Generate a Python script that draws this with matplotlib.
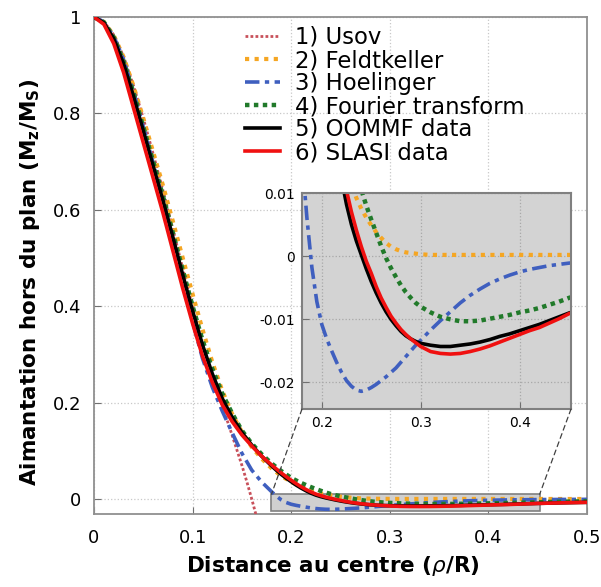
import matplotlib
matplotlib.use("Agg")
import matplotlib.pyplot as plt
from matplotlib.patches import Rectangle, ConnectionPatch

plt.rcParams['font.family'] = ['DejaVu Sans']
plt.rcParams['axes.unicode_minus'] = False
plt.rcParams['mathtext.fontset'] = 'dejavusans'

# distance to the centre (rho/R), shared by the models and the simulations
dist = [0.00, 0.01, 0.02, 0.03, 0.04, 0.05, 0.06, 0.07, 0.08, 0.09,
        0.10, 0.11, 0.12, 0.13, 0.14, 0.15, 0.16, 0.17, 0.18, 0.185,
        0.19, 0.195, 0.200, 0.205, 0.210, 0.215, 0.220, 0.225, 0.230, 0.235,
        0.240, 0.245, 0.250, 0.255, 0.260, 0.265, 0.270, 0.275, 0.280, 0.285,
        0.290, 0.295, 0.300, 0.31, 0.32, 0.33, 0.34, 0.35, 0.36, 0.37,
        0.38, 0.39, 0.40, 0.41, 0.42, 0.43, 0.44, 0.45, 0.475, 0.50]

feldtkeller = [1.000, 0.990, 0.962, 0.917, 0.857, 0.790, 0.720, 0.650, 0.576, 0.500,
               0.425, 0.352, 0.284, 0.225, 0.177, 0.139, 0.108, 0.084, 0.064, 0.0558,
               0.048, 0.0417, 0.036, 0.0305, 0.0255, 0.0210, 0.0172, 0.0140, 0.0113, 0.0092,
               0.0075, 0.0061, 0.0049, 0.0038, 0.0029, 0.0021, 0.0015, 0.0011, 0.0008, 0.0006,
               0.0005, 0.0004, 0.0003, 0.0002, 0.0002, 0.0002, 0.0002, 0.0002, 0.0002, 0.0002,
               0.0002, 0.0002, 0.0002, 0.0002, 0.0002, 0.0002, 0.0002, 0.0002, 0.0001, 0.0001]

hoelinger = [1.000, 0.990, 0.960, 0.912, 0.845, 0.772, 0.697, 0.620, 0.540, 0.456,
             0.368, 0.292, 0.232, 0.183, 0.138, 0.095, 0.060, 0.0355, 0.0155, 0.0060,
             -0.0018, -0.0072, -0.0108, -0.0131, -0.0150, -0.0168, -0.0184, -0.0197, -0.0206, -0.0212,
             -0.0214, -0.0212, -0.0208, -0.0203, -0.0197, -0.0191, -0.0184, -0.0177, -0.0168, -0.0159,
             -0.0150, -0.0141, -0.0133, -0.0117, -0.0102, -0.0088, -0.0074, -0.0062, -0.0052, -0.0043,
             -0.0036, -0.0030, -0.0025, -0.0021, -0.0018, -0.0015, -0.0013, -0.0011, -0.0008, -0.0006]

fourier = [1.000, 0.989, 0.958, 0.908, 0.843, 0.772, 0.700, 0.628, 0.552, 0.475,
           0.400, 0.330, 0.270, 0.219, 0.178, 0.142, 0.115, 0.093, 0.074, 0.0658,
           0.058, 0.0508, 0.044, 0.0385, 0.0335, 0.0290, 0.0248, 0.0208, 0.0171, 0.0137,
           0.0105, 0.0080, 0.0058, 0.0037, 0.0016, -0.0003, -0.0019, -0.0033, -0.0046, -0.0057,
           -0.0066, -0.0074, -0.0080, -0.0089, -0.0096, -0.0100, -0.0103, -0.0103, -0.0102, -0.0099,
           -0.0096, -0.0093, -0.0089, -0.0086, -0.0082, -0.0077, -0.0072, -0.0066, -0.0055, -0.0046]

oommf = [1.000, 0.988, 0.955, 0.903, 0.836, 0.764, 0.691, 0.619, 0.543, 0.465,
         0.390, 0.320, 0.260, 0.209, 0.170, 0.138, 0.112, 0.089, 0.069, 0.0597,
         0.051, 0.0432, 0.036, 0.029, 0.0228, 0.0172, 0.0122, 0.0082, 0.0050, 0.0024,
         0.0002, -0.0020, -0.0040, -0.0058, -0.0074, -0.0088, -0.0100, -0.0110, -0.0119, -0.0126,
         -0.0131, -0.0135, -0.0138, -0.0141, -0.0143, -0.0143, -0.0141, -0.0139, -0.0136, -0.0132,
         -0.0127, -0.0123, -0.0118, -0.0113, -0.0108, -0.0102, -0.0096, -0.0090, -0.0078, -0.0068]

slasi = [1.000, 0.985, 0.945, 0.885, 0.812, 0.739, 0.666, 0.593, 0.515, 0.437,
         0.364, 0.297, 0.242, 0.196, 0.161, 0.133, 0.110, 0.089, 0.071, 0.0623,
         0.054, 0.0463, 0.039, 0.032, 0.0255, 0.0198, 0.0148, 0.0104, 0.0070, 0.0041,
         0.0015, -0.0008, -0.0027, -0.0048, -0.0066, -0.0081, -0.0095, -0.0106, -0.0116, -0.0124,
         -0.0131, -0.0137, -0.0143, -0.0151, -0.0154, -0.0155, -0.0154, -0.0151, -0.0147, -0.0142,
         -0.0136, -0.0130, -0.0124, -0.0118, -0.0113, -0.0106, -0.0099, -0.0091, -0.0078, -0.0068]

# Usov profile has its own sampling (it leaves the frame near 0.16)
usov_x = [0.00, 0.01, 0.02, 0.03, 0.04, 0.05, 0.06, 0.07, 0.08, 0.09,
          0.10, 0.11, 0.12, 0.13, 0.14, 0.15, 0.155, 0.16, 0.165]
usov_y = [1.000, 0.991, 0.963, 0.918, 0.858, 0.790, 0.716, 0.640, 0.560, 0.478,
          0.398, 0.322, 0.256, 0.194, 0.133, 0.070, 0.036, 0.000, -0.038]

labels = ['1) Usov', '2) Feldtkeller', '3) Hoelinger', '4) Fourier transform',
          '5) OOMMF data', '6) SLASI data']
xticks = [0, 0.1, 0.2, 0.3, 0.4, 0.5]
yticks = [0, 0.2, 0.4, 0.6, 0.8, 1]
in_xticks = [0.2, 0.3, 0.4]
in_yticks = [0.01, 0, -0.01, -0.02]
zoom_x = (0.18, 0.452)
zoom_y = (-0.0242, 0.01)

styles = [
    dict(color='#c8505a', lw=2.0, ls=(0, (1, 0.8))),
    dict(color='#f5a623', lw=3.0, ls=(0, (1, 1.3))),
    dict(color='#3f5fbf', lw=2.6, ls=(0, (4, 1.5, 1.2, 1.5))),
    dict(color='#217a2a', lw=3.2, ls=(0, (1, 1))),
    dict(color='black', lw=2.6, ls='-'),
    dict(color='#f01010', lw=2.6, ls='-'),
]
series = [(usov_x, usov_y), (dist, feldtkeller), (dist, hoelinger),
          (dist, fourier), (dist, oommf), (dist, slasi)]

fig = plt.figure(figsize=(6.01, 5.87), dpi=100)
ax = fig.add_axes([0.1564, 0.1252, 0.8203, 0.8458])

lines = []
for (xs, ys), st, lab in zip(series, styles, labels):
    ln, = ax.plot(xs, ys, label=lab, zorder=3, **st)
    lines.append(ln)

ax.add_patch(Rectangle((zoom_x[0], zoom_y[0]), zoom_x[1] - zoom_x[0], zoom_y[1] - zoom_y[0],
                       facecolor='#d0d0d0', edgecolor='#808080', lw=1.2, zorder=2))

ax.set_xlim(0, 0.5)
ax.set_ylim(-0.03, 1.0)
ax.set_xticks(xticks)
ax.set_xticklabels(['0', '0.1', '0.2', '0.3', '0.4', '0.5'])
ax.set_yticks(yticks)
ax.set_yticklabels(['0', '0.2', '0.4', '0.6', '0.8', '1'])
ax.tick_params(direction='in', length=5, color='#707070', labelsize=13)
ax.tick_params(axis='x', pad=11)
ax.tick_params(axis='y', pad=9)
ax.grid(True, ls=':', color='#c8c8c8', lw=0.9)
for sp in ax.spines.values():
    sp.set_color('#909090')
    sp.set_linewidth(1.3)

ax.set_xlabel('Distance au centre ($\\rho$/R)', fontsize=15.5, fontweight='bold')
ax.set_ylabel('Aimantation hors du plan (M$_\\mathbf{z}$/M$_\\mathbf{S}$)', fontsize=15.5,
              fontweight='bold')
ax.xaxis.set_label_coords(0.485, -0.082)
ax.yaxis.set_label_coords(-0.106, 0.466)

fig.legend(handles=lines, loc='upper left', bbox_to_anchor=(245 / 601, 1 - 26 / 587),
           frameon=False, fontsize=16.4, handlelength=1.55, handletextpad=0.65,
           labelspacing=0.0, borderpad=0, borderaxespad=0)

# zoomed inset
ax_in = fig.add_axes([0.5025, 0.3032, 0.4476, 0.368])
ax_in.set_facecolor('#d3d3d3')
for (xs, ys), st in zip(series, styles):
    ax_in.plot(xs, ys, **st)
ax_in.set_xlim(*zoom_x)
ax_in.set_ylim(*zoom_y)
ax_in.set_xticks(in_xticks)
ax_in.set_xticklabels(['0.2', '0.3', '0.4'])
ax_in.set_yticks(in_yticks)
ax_in.set_yticklabels(['0.01', '0', '-0.01', '-0.02'])
ax_in.tick_params(direction='in', length=5, color='#707070', labelsize=10, pad=5)
ax_in.grid(True, ls=':', color='#a8a8a8', lw=0.9)
for sp in ax_in.spines.values():
    sp.set_color('#808080')
    sp.set_linewidth(1.5)

for xa, xb in [(0, zoom_x[0]), (1, zoom_x[1])]:
    con = ConnectionPatch(xyA=(xa, 0), coordsA=ax_in.transAxes,
                          xyB=(xb, zoom_y[1]), coordsB=ax.transData,
                          color='#404040', lw=0.9, ls=(0, (4, 3)))
    fig.add_artist(con)

fig.savefig('out.png', dpi=100)
